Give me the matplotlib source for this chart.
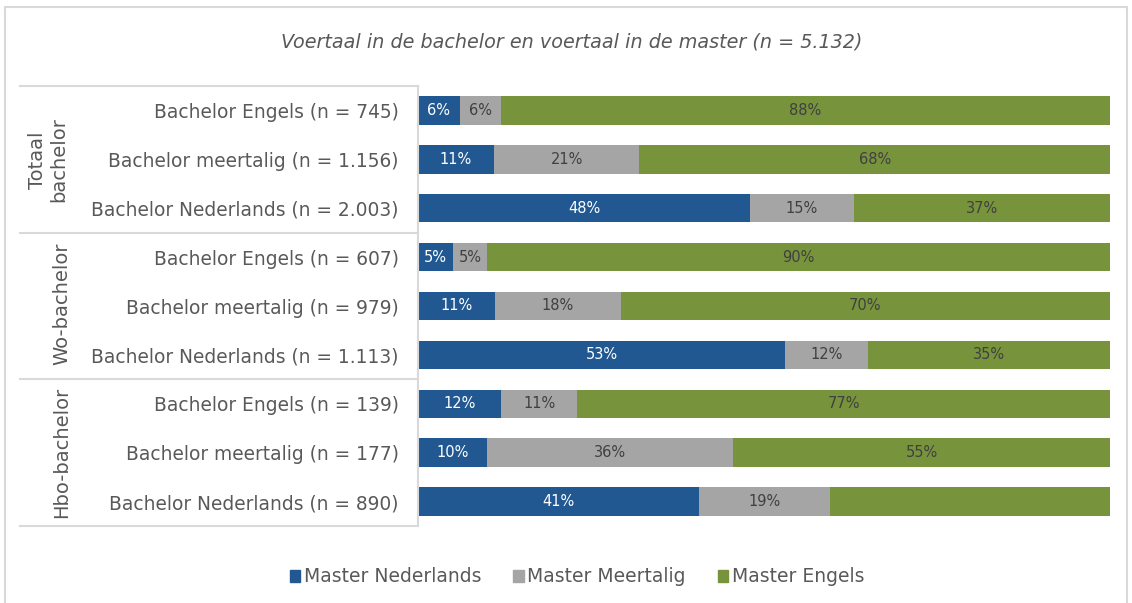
import numpy as np
import matplotlib
matplotlib.use("Agg")
import matplotlib.pyplot as plt
import matplotlib.transforms as mtrans
from matplotlib.patches import Patch, Rectangle

plt.rcParams["font.family"] = "DejaVu Sans"

# data (percentages)
groups = ["Totaal\nbachelor", "Wo-bachelor", "Hbo-bachelor"]
rows = ["Bachelor Engels (n = 745)", "Bachelor meertalig (n = 1.156)", "Bachelor Nederlands (n = 2.003)",
        "Bachelor Engels (n = 607)", "Bachelor meertalig (n = 979)", "Bachelor Nederlands (n = 1.113)",
        "Bachelor Engels (n = 139)", "Bachelor meertalig (n = 177)", "Bachelor Nederlands (n = 890)"]
master_nl = [6, 11, 48, 5, 11, 53, 12, 10, 40.6]
master_meer = [6, 21, 15, 5, 18, 12, 11, 36, 18.9]
master_en = [88, 68, 37, 90, 70, 35, 77, 55, 40.5]
series = ["Master Nederlands", "Master Meertalig", "Master Engels"]
hidden_label = (8, 2)  # label not shown in the original

colors = ["#215891", "#A5A5A5", "#77933C"]
txt_colors = ["white", "#404040", "#404040"]
grey = "#595959"
line_c = "#D9D9D9"

fig = plt.figure(figsize=(11.32, 6.03), dpi=100)
ax = fig.add_axes([418/1132, 1-526/603, 692/1132, 440/603])

vals = np.array([master_nl, master_meer, master_en], dtype=float)
shares = vals / vals.sum(axis=0) * 100
y = np.arange(len(rows))
left = np.zeros(len(rows))
for i in range(3):
    ax.barh(y, shares[i], left=left, height=0.58, color=colors[i], label=series[i])
    for j in range(len(rows)):
        if (j, i) == hidden_label:
            continue
        ax.text(left[j] + shares[i][j]/2, y[j], f"{int(round(vals[i][j]))}%", ha="center", va="center",
                fontsize=10.5, color=txt_colors[i])
    left += shares[i]

ax.set_xlim(0, 100)
ax.set_ylim(len(rows)-0.5, -0.5)
ax.set_yticks(y)
ax.set_yticklabels(rows, fontsize=13.4, color=grey)
ax.tick_params(axis="y", length=0, pad=14)
ax.set_xticks([])
for s in ["top", "right", "bottom"]:
    ax.spines[s].set_visible(False)
ax.spines["left"].set_color(line_c)
ax.spines["left"].set_linewidth(1.5)

# group separators
tr = mtrans.blended_transform_factory(fig.transFigure, ax.transData)
for yy in [-0.5, 2.5, 5.5, 8.5]:
    ax.plot([20/1132, 418/1132], [yy, yy], transform=tr, color=line_c, lw=1.5, clip_on=False)

fig.text(48/1132, 1-160/603, groups[0], rotation=90, ha="center", va="center", fontsize=14,
         color=grey, linespacing=1.1)
fig.text(62/1132, 1-304/603, groups[1], rotation=90, ha="center", va="center", fontsize=14, color=grey)
fig.text(62/1132, 1-452/603, groups[2], rotation=90, ha="center", va="center", fontsize=14, color=grey)

fig.text(572/1132, 1-42/603, "Voertaal in de bachelor en voertaal in de master (n = 5.132)",
         ha="center", va="center", style="italic", fontsize=13.8, color=grey)

handles = [Patch(color=c, label=s) for c, s in zip(colors, series)]
fig.legend(handles=handles, loc="center", bbox_to_anchor=(577/1132, 1-577/603), ncol=3, frameon=False,
           handlelength=0.55, handleheight=0.55, handletextpad=0.2, columnspacing=1.7,
           fontsize=13.5, labelcolor=grey)

fig.patches.append(Rectangle((5/1132, -0.01), 1122/1132, 1-7/603+0.01, transform=fig.transFigure,
                             fill=False, edgecolor=line_c, lw=1.5))

fig.savefig("out.png", dpi=100, facecolor="w")
